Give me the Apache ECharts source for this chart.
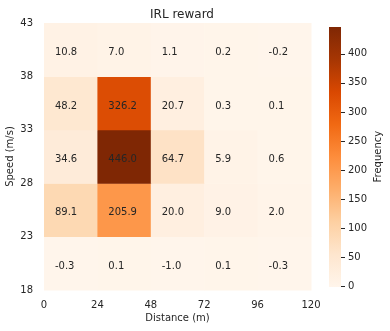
<!DOCTYPE html>
<html>
<head>
<meta charset="utf-8">
<script src="https://cdn.jsdelivr.net/npm/echarts@6/dist/echarts.min.js"></script>
<style>
  html, body { margin: 0; padding: 0; background: #fff; }
  #main { width: 390px; height: 331px; }
</style>
</head>
<body>
<div id="main"></div>
<script>
// cell edges (lower bound of each bin)
var distanceBins = [0, 24, 48, 72, 96];
var speedBins = [18, 23, 28, 33, 38];
var distanceStep = 24;
var speedStep = 5;

// rows from speed 38-43 down to 18-23, columns distance 0..96
var row38 = [10.8, 7.0, 1.1, 0.2, -0.2];
var row33 = [48.2, 326.2, 20.7, 0.3, 0.1];
var row28 = [34.6, 446.0, 64.7, 5.9, 0.6];
var row23 = [89.1, 205.9, 20.0, 9.0, 2.0];
var row18 = [-0.3, 0.1, -1.0, 0.1, -0.3];

var colorbarTicks = [0, 50, 100, 150, 200, 250, 300, 350, 400];
var oranges = ['#fff5eb', '#fee6ce', '#fdd0a2', '#fdae6b', '#fd8d3c', '#f16913', '#d94801', '#a63603', '#7f2704'];

var rows = { 18: row18, 23: row23, 28: row28, 33: row33, 38: row38 };
var cells = [];
speedBins.forEach(function (s) {
  distanceBins.forEach(function (d, i) {
    cells.push([d, s, rows[s][i]]);
  });
});
var allVals = cells.map(function (c) { return c[2]; });
var vmin = Math.min.apply(null, allVals);
var vmax = Math.max.apply(null, allVals);

var textColor = '#262626';
var myChart = echarts.init(document.getElementById('main'));

function renderCell(params, api) {
  var x = api.value(0), y = api.value(1);
  var p0 = api.coord([x, y + speedStep]);
  var p1 = api.coord([x + distanceStep, y]);
  var tx = api.coord([x + distanceStep * 0.205, y + speedStep / 2]);
  return {
    type: 'group',
    children: [{
      type: 'rect',
      shape: { x: p0[0], y: p0[1], width: p1[0] - p0[0] + 0.5, height: p1[1] - p0[1] + 0.5 },
      style: { fill: api.visual('color') }
    }, {
      type: 'text',
      style: {
        x: tx[0], y: tx[1] + 3,
        text: api.value(2).toFixed(1),
        fill: textColor,
        font: '10px "DejaVu Sans"',
        align: 'left',
        verticalAlign: 'middle'
      }
    }]
  };
}

// small tick marks on the right of the colour bar
function renderBarTick(params, api) {
  var p = api.coord([1, api.value(1)]);
  var y = Math.round(p[1]) + 0.5;
  return {
    type: 'line',
    shape: { x1: p[0], y1: y, x2: p[0] + 4, y2: y },
    style: { stroke: textColor, lineWidth: 1 }
  };
}

// colour bar gradient (top = max)
var barStops = oranges.map(function (c, i) {
  return { offset: 1 - i / (oranges.length - 1), color: c };
});

var option = {
  backgroundColor: '#fff',
  animation: false,
  textStyle: { fontFamily: 'DejaVu Sans' },
  title: {
    text: 'IRL reward',
    left: 177, top: 4,
    textAlign: 'center',
    textStyle: { fontSize: 12, fontWeight: 'normal', color: textColor, fontFamily: 'DejaVu Sans' }
  },
  grid: [
    { left: 44, top: 23, width: 267, height: 267, outerBoundsMode: 'none', containLabel: false },
    { left: 329, top: 27, width: 12, height: 259.4, outerBoundsMode: 'none', containLabel: false }
  ],
  graphic: [{
    type: 'rect', left: 329, top: 27, z: 1,
    shape: { width: 12, height: 260 },
    style: { fill: new echarts.graphic.LinearGradient(0, 0, 0, 1, barStops) }
  }],
  xAxis: [{
    type: 'value', gridIndex: 0, min: 0, max: 120, interval: 24,
    name: 'Distance (m)', nameLocation: 'middle', nameGap: 23, nameMoveOverlap: false,
    nameTextStyle: { fontSize: 10, color: textColor },
    axisLine: { show: false }, axisTick: { show: false }, splitLine: { show: false },
    axisLabel: { fontSize: 10, color: textColor, margin: 10 }
  }, {
    type: 'value', gridIndex: 1, min: 0, max: 1, show: false
  }],
  yAxis: [{
    type: 'value', gridIndex: 0, min: 18, max: 43, interval: 5,
    name: 'Speed (m/s)', nameLocation: 'middle', nameGap: 29, nameMoveOverlap: false,
    nameTextStyle: { fontSize: 10, color: textColor },
    axisLine: { show: false }, axisTick: { show: false }, splitLine: { show: false },
    axisLabel: { fontSize: 10, color: textColor, margin: 11 }
  }, {
    type: 'value', gridIndex: 1, position: 'right', min: 0, max: vmax, interval: 50,
    name: 'Frequency', nameLocation: 'middle', nameGap: 32, nameRotate: 90, nameMoveOverlap: false,
    nameTextStyle: { fontSize: 10, color: textColor },
    axisLine: { show: false },
    splitLine: { show: false },
    axisTick: { show: false },
    axisLabel: { fontSize: 10, color: textColor, margin: 7, customValues: colorbarTicks }
  }],
  visualMap: {
    type: 'continuous', min: vmin, max: vmax, dimension: 2, seriesIndex: 0,
    show: false,
    inRange: { color: oranges }
  },
  series: [{
    type: 'custom',
    xAxisIndex: 0, yAxisIndex: 0,
    renderItem: renderCell,
    encode: { x: 0, y: 1 },
    data: cells
  }, {
    type: 'custom',
    xAxisIndex: 1, yAxisIndex: 1,
    renderItem: renderBarTick,
    encode: { x: 0, y: 1 },
    z: 5,
    data: colorbarTicks.map(function (v) { return [1, v]; })
  }]
};
myChart.setOption(option);
</script>
</body>
</html>
